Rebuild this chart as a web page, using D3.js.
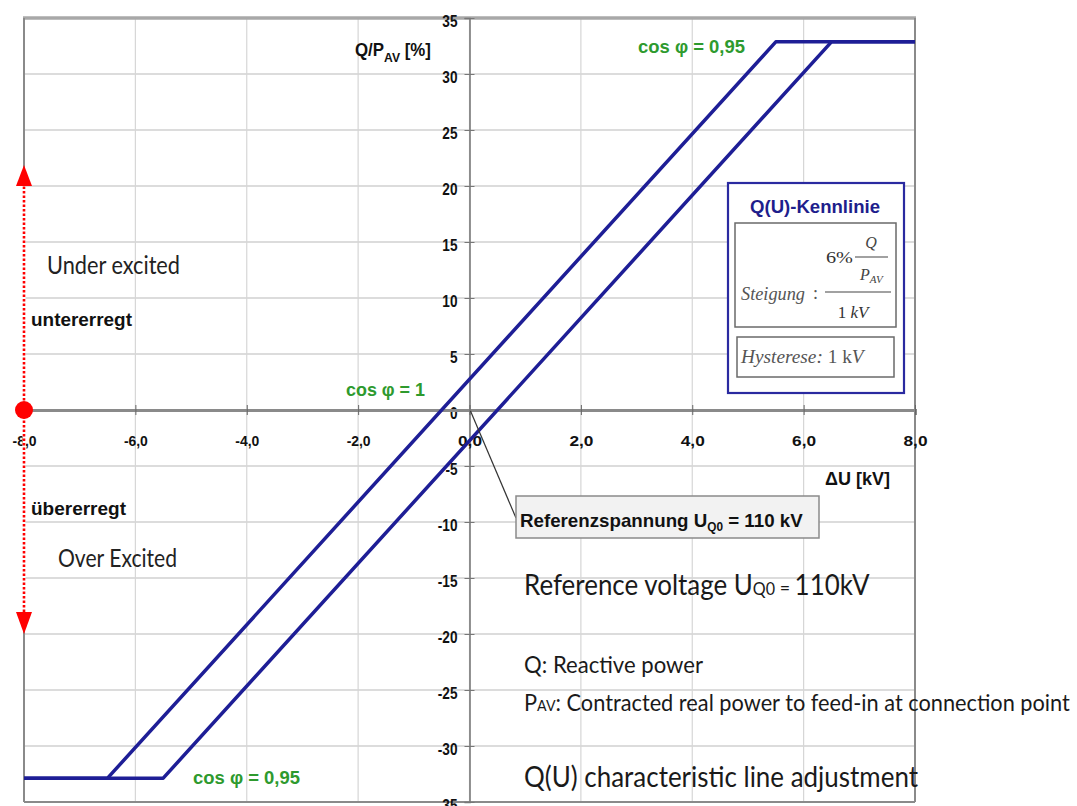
<!DOCTYPE html>
<html>
<head>
<meta charset="utf-8">
<script src="https://cdn.jsdelivr.net/npm/d3@7"></script>
<style>
  html, body { margin: 0; padding: 0; background: #fff; }
  svg { display: block; }
  .narrow { font-family: "Liberation Sans", Arial, sans-serif; }
  .soft { font-family: Lato, "Open Sans", sans-serif; }
  .math { font-family: "Liberation Serif", "DejaVu Serif", serif; }
</style>
</head>
<body>
<svg id="chart" width="1077" height="806"></svg>
<script>
// Q(U) characteristic: reactive power (% of P_AV) against voltage deviation ΔU (kV)
const xTicks = [-8, -6, -4, -2, 0, 2, 4, 6, 8];
const xTickLabels = ["-8,0", "-6,0", "-4,0", "-2,0", "0,0", "2,0", "4,0", "6,0", "8,0"];
const yTicks = [35, 30, 25, 20, 15, 10, 5, 0, -5, -10, -15, -20, -25, -30, -35];
const yTickLabels = ["35", "30", "25", "20", "15", "10", "5", "0", "-5", "-10", "-15", "-20", "-25", "-30", "-35"];

// Branch reached when the voltage rises (left line) and when it falls (right line); 1 kV hysteresis
const risingDU = [-8, -6.5, 5.5, 8];
const risingQ = [-32.87, -32.87, 32.87, 32.87];
const fallingDU = [-8, -5.5, 6.5, 8];
const fallingQ = [-32.87, -32.87, 32.87, 32.87];

const svg = d3.select("#chart");
const plotL = 24, plotR = 915, plotT = 18, plotB = 802;

const x = d3.scaleLinear().domain([-8, 8]).range([plotL, plotR]);
const y = d3.scaleLinear().domain([-35, 35]).range([plotB, plotT]);

const navy = "#1e1e96";
const green = "#2e9a2e";

// squeeze a single-run label to a set run length (narrow face look)
function fit(sel, w) {
  return sel.attr("textLength", w).attr("lengthAdjust", "spacingAndGlyphs");
}
// place a label at (px, py) and scale it horizontally to width w
function place(sel, px, py, w) {
  sel.attr("x", 0).attr("y", 0);
  const nat = sel.node().getBBox().width;
  sel.attr("transform", `translate(${px},${py}) scale(${w / nat},1)`);
  return sel;
}

// grid
const grid = svg.append("g");
grid.selectAll("line.h").data(yTicks).join("line").attr("class", "h")
  .attr("x1", plotL).attr("x2", plotR)
  .attr("y1", d => y(d)).attr("y2", d => y(d))
  .attr("stroke", "#dcdcdc").attr("stroke-width", 2);
grid.selectAll("line.v").data(xTicks).join("line").attr("class", "v")
  .attr("y1", plotT).attr("y2", plotB)
  .attr("x1", d => x(d)).attr("x2", d => x(d))
  .attr("stroke", "#d6d6d6").attr("stroke-width", 1.2);

// plot frame
svg.append("line").attr("x1", plotL - 1).attr("x2", plotR + 1).attr("y1", plotT).attr("y2", plotT)
  .attr("stroke", "#a8a8a8").attr("stroke-width", 3.5);
svg.append("line").attr("x1", plotR).attr("x2", plotR).attr("y1", plotT).attr("y2", plotB)
  .attr("stroke", "#8a8a8a").attr("stroke-width", 2);
svg.append("line").attr("x1", plotL).attr("x2", plotL).attr("y1", plotT).attr("y2", plotB)
  .attr("stroke", "#8a8a8a").attr("stroke-width", 2);
svg.append("line").attr("x1", plotL).attr("x2", plotR).attr("y1", plotB).attr("y2", plotB)
  .attr("stroke", "#8a8a8a").attr("stroke-width", 2);

// y axis through ΔU = 0
const yAxis = svg.append("g")
  .attr("transform", `translate(${x(0)},0)`)
  .call(d3.axisLeft(y).tickValues(yTicks).tickFormat((d, i) => yTickLabels[i]).tickSize(5).tickPadding(7));
yAxis.select(".domain").attr("stroke", "#7a7a7a").attr("stroke-width", 1.6);
yAxis.selectAll(".tick line").attr("x1", -5).attr("x2", 5).attr("stroke", "#777");
yAxis.selectAll(".tick text")
  .attr("class", "narrow").attr("dy", "0.5em")
  .style("font-size", "17px").style("font-weight", "bold").attr("fill", "#111")
  .each(function () {
    const w = this.getComputedTextLength();
    fit(d3.select(this), w * 0.8);
  });

// x axis through Q = 0
const xAxis = svg.append("g")
  .attr("transform", `translate(0,${y(0)})`)
  .call(d3.axisBottom(x).tickValues(xTicks).tickFormat((d, i) => xTickLabels[i]).tickSize(5).tickPadding(20));
xAxis.select(".domain").attr("stroke", "#8a8a8a").attr("stroke-width", 3);
xAxis.selectAll(".tick line").attr("y1", -5).attr("y2", 5).attr("stroke", "#666");
xAxis.selectAll(".tick text")
  .attr("class", "narrow")
  .style("font-size", "15px").style("font-weight", "bold").attr("fill", "#111")
  .each(function () { fit(d3.select(this), 24); });

// axis titles
const yTitle = svg.append("text").attr("class", "narrow")
  .style("font-size", "18px").style("font-weight", "bold").attr("fill", "#111");
yTitle.append("tspan").text("Q/P");
yTitle.append("tspan").attr("dy", 6).style("font-size", "13px").text("AV");
yTitle.append("tspan").attr("dy", -6).text(" [%]");
place(yTitle, 355, 56, 76);

fit(svg.append("text").attr("class", "narrow").attr("x", 825).attr("y", 485)
  .style("font-size", "19px").style("font-weight", "bold").attr("fill", "#111")
  .text("ΔU [kV]"), 65);

// excitation arrow on the left edge
const red = "#ff0000";
svg.append("line").attr("x1", plotL).attr("x2", plotL).attr("y1", 182).attr("y2", 616)
  .attr("stroke", "#fff").attr("stroke-width", 3);
svg.append("line").attr("x1", plotL).attr("x2", plotL).attr("y1", 182).attr("y2", 616)
  .attr("stroke", red).attr("stroke-width", 2.6).attr("stroke-dasharray", "2.5,2");
svg.append("path").attr("d", d3.line()([[plotL - 8, 186], [plotL + 8, 186], [plotL, 165]]))
  .attr("fill", red);
svg.append("path").attr("d", d3.line()([[plotL - 8, 612], [plotL + 8, 612], [plotL, 634]]))
  .attr("fill", red);
svg.append("circle").attr("cx", plotL).attr("cy", y(0)).attr("r", 9).attr("fill", red);

// region labels
fit(svg.append("text").attr("class", "soft").attr("x", 47).attr("y", 274)
  .style("font-size", "25px").attr("fill", "#222").text("Under excited"), 133);
fit(svg.append("text").attr("class", "narrow").attr("x", 31).attr("y", 326)
  .style("font-size", "18px").style("font-weight", "bold").attr("fill", "#111").text("untererregt"), 101);
fit(svg.append("text").attr("class", "narrow").attr("x", 31).attr("y", 515)
  .style("font-size", "18px").style("font-weight", "bold").attr("fill", "#111").text("übererregt"), 95);
fit(svg.append("text").attr("class", "soft").attr("x", 58).attr("y", 567)
  .style("font-size", "25px").attr("fill", "#222").text("Over Excited"), 119);

// cos φ annotations
const cosLabels = [
  { t: "cos φ = 0,95", x: 638, y: 53, w: 107 },
  { t: "cos φ = 1", x: 346, y: 396, w: 79 },
  { t: "cos φ = 0,95", x: 193, y: 784, w: 107 }
];
svg.selectAll("text.cos").data(cosLabels).join("text")
  .attr("class", "narrow cos").attr("x", d => d.x).attr("y", d => d.y)
  .style("font-size", "19px").style("font-weight", "bold").attr("fill", green)
  .attr("textLength", d => d.w).attr("lengthAdjust", "spacingAndGlyphs")
  .text(d => d.t);

// the two characteristic branches
const line = d3.line().x(d => x(d[0])).y(d => y(d[1]));
svg.append("path").datum(d3.zip(risingDU, risingQ)).attr("d", line)
  .attr("fill", "none").attr("stroke", navy).attr("stroke-width", 3.5).attr("stroke-linejoin", "round");
svg.append("path").datum(d3.zip(fallingDU, fallingQ)).attr("d", line)
  .attr("fill", "none").attr("stroke", navy).attr("stroke-width", 3.5).attr("stroke-linejoin", "round");

// reference voltage callout
svg.append("line").attr("x1", x(0) + 1).attr("y1", y(0) + 1).attr("x2", 516).attr("y2", 518)
  .attr("stroke", "#333").attr("stroke-width", 1.2);
svg.append("rect").attr("x", 516).attr("y", 496).attr("width", 303).attr("height", 42)
  .attr("fill", "#f2f2f2").attr("stroke", "#8a8a8a").attr("stroke-width", 1.5);
const refT = svg.append("text").attr("class", "narrow")
  .style("font-size", "19px").style("font-weight", "bold").attr("fill", "#111");
refT.append("tspan").text("Referenzspannung U");
refT.append("tspan").attr("dy", 4).style("font-size", "12px").text("Q0");
refT.append("tspan").attr("dy", -4).text(" = 110 kV");
place(refT, 520, 527, 283);

// Q(U)-Kennlinie info box
const box = svg.append("g");
box.append("rect").attr("x", 728).attr("y", 183).attr("width", 176).attr("height", 210)
  .attr("fill", "#fff").attr("stroke", "#2a2aa0").attr("stroke-width", 2.2);
fit(box.append("text").attr("class", "narrow").attr("x", 750).attr("y", 213)
  .style("font-size", "19px").style("font-weight", "bold").attr("fill", "#1e1e8c").text("Q(U)-Kennlinie"), 130);
box.append("rect").attr("x", 735).attr("y", 223).attr("width", 161).attr("height", 104)
  .attr("fill", "#fff").attr("stroke", "#6a6a6a").attr("stroke-width", 1.5);
fit(box.append("text").attr("class", "math").attr("x", 741).attr("y", 300)
  .style("font-size", "18px").style("font-style", "italic").attr("fill", "#555").text("Steigung"), 64);
box.append("text").attr("class", "math").attr("x", 813).attr("y", 299)
  .style("font-size", "18px").attr("fill", "#555").text(":");
fit(box.append("text").attr("class", "math").attr("x", 826).attr("y", 263)
  .style("font-size", "17px").attr("fill", "#333").text("6%"), 27);
box.append("line").attr("x1", 855).attr("x2", 888).attr("y1", 257).attr("y2", 257)
  .attr("stroke", "#444").attr("stroke-width", 1.2);
box.append("text").attr("class", "math").attr("x", 871).attr("y", 248).attr("text-anchor", "middle")
  .style("font-size", "16px").style("font-style", "italic").attr("fill", "#444").text("Q");
const pav = box.append("text").attr("class", "math").attr("x", 860).attr("y", 280)
  .style("font-size", "16px").style("font-style", "italic").attr("fill", "#444");
pav.append("tspan").text("P");
pav.append("tspan").attr("dy", 3).style("font-size", "11px").text("AV");
box.append("line").attr("x1", 825).attr("x2", 891).attr("y1", 292).attr("y2", 292)
  .attr("stroke", "#444").attr("stroke-width", 1.2);
const kv = box.append("text").attr("class", "math").attr("x", 853).attr("y", 318).attr("text-anchor", "middle")
  .style("font-size", "17px").attr("fill", "#333");
kv.append("tspan").text("1 ");
kv.append("tspan").style("font-style", "italic").text("kV");
box.append("rect").attr("x", 737).attr("y", 337).attr("width", 157).attr("height", 40)
  .attr("fill", "#fff").attr("stroke", "#6a6a6a").attr("stroke-width", 1.5);
const hys = box.append("text").attr("class", "math")
  .style("font-size", "18px").attr("fill", "#555");
hys.append("tspan").style("font-style", "italic").text("Hysterese:");
hys.append("tspan").text(" 1 k");
hys.append("tspan").style("font-style", "italic").text("V");
place(hys, 741, 363, 126);

// explanatory notes
const note1 = svg.append("text").attr("class", "soft")
  .style("font-size", "29px").attr("fill", "#1a1a1a");
note1.append("tspan").text("Reference voltage U");
note1.append("tspan").style("font-size", "18px").text("Q0");
note1.append("tspan").style("font-size", "20px").text(" = ");
note1.append("tspan").text("110kV");
place(note1, 524, 595, 346);

fit(svg.append("text").attr("class", "soft").attr("x", 524).attr("y", 673)
  .style("font-size", "23px").attr("fill", "#1a1a1a").text("Q:  Reactive power"), 179);
const note3 = svg.append("text").attr("class", "soft")
  .style("font-size", "23px").attr("fill", "#1a1a1a");
note3.append("tspan").text("P");
note3.append("tspan").style("font-size", "15px").text("AV");
note3.append("tspan").text(":  Contracted real power to feed-in at connection point");
place(note3, 524, 711, 547);

fit(svg.append("text").attr("class", "soft").attr("x", 524).attr("y", 787)
  .style("font-size", "29px").attr("fill", "#1a1a1a").text("Q(U) characteristic line adjustment"), 394);
</script>
</body>
</html>
